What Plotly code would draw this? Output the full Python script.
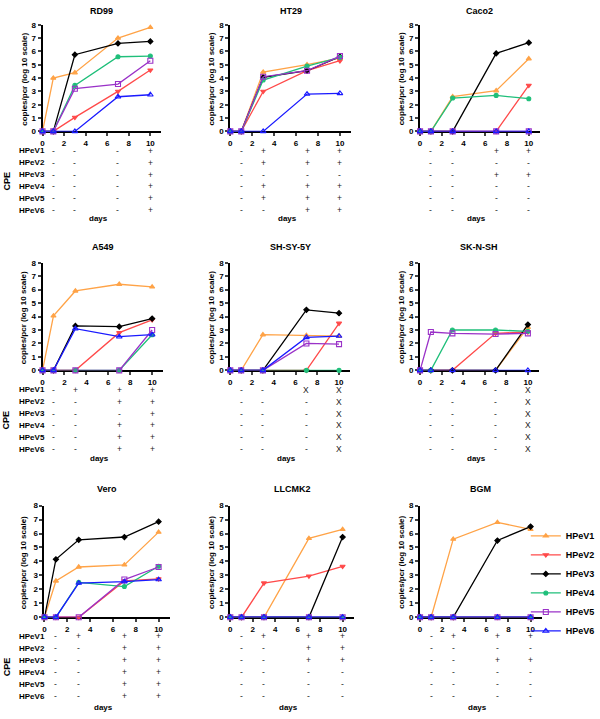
import plotly.graph_objects as go

W, H = 600, 719

DAYS = [0, 1, 3, 7, 10]
CPE_DAYS = [1, 3, 7, 10]
SERIES = ["HPeV1", "HPeV2", "HPeV3", "HPeV4", "HPeV5", "HPeV6"]
COLORS = ["#FFA347", "#FF4A4A", "#000000", "#1FBF7A", "#9A32C8", "#1A1AFF"]
SYMBOLS = ["triangle-up", "triangle-down", "diamond", "circle", "square-open", "triangle-up-open"]
SIZES = [4.5, 4.5, 4, 4, 5, 5]

PANELS = ["RD99", "HT29", "Caco2", "A549", "SH-SY-5Y", "SK-N-SH", "Vero", "LLCMK2", "BGM"]

# copies/pcr (log10) per series HPeV1..HPeV6 at DAYS
RD99 = [[0, 4.0, 4.4, 7.0, 7.8], [0, 0, 1.05, 3.0, 4.6], [0, 0, 5.75, 6.6, 6.75],
        [0, 0, 3.45, 5.6, 5.65], [0, 0, 3.2, 3.55, 5.3], [0, 0, 0, 2.6, 2.75]]
HT29 = [[0, 0, 4.45, 5.0, 5.5], [0, 0, 3.0, 4.55, 5.3], [0, 0, 4.05, 4.55, 5.6],
        [0, 0, 3.85, 4.9, 5.55], [0, 0, 4.1, 4.55, 5.65], [0, 0, 0, 2.8, 2.85]]
CACO2 = [[0, 0, 2.6, 3.05, 5.45], [0, 0, 0, 0, 3.45], [0, 0, 0, 5.85, 6.65],
         [0, 0, 2.5, 2.7, 2.45], [0, 0, 0, 0, 0], [0, 0, 0, 0, 0]]
A549 = [[0, 4.05, 5.9, 6.4, 6.2], [0, 0, 0, 2.8, 3.75], [0, 0, 3.3, 3.25, 3.85],
        [0, 0, 0, 0, 2.65], [0, 0, 0, 0, 3.0], [0, 0, 3.1, 2.5, 2.65]]
SHSY5Y = [[0, 0, 2.65, 2.6, 2.55], [0, 0, 0, 0, 3.5], [0, 0, 0, 4.5, 4.25],
          [0, 0, 0, 0, 0], [0, 0, 0, 2.0, 1.95], [0, 0, 0, 2.45, 2.55]]
SKNSH = [[0, 0, 0, 0, 3.2], [0, 0, 0, 2.75, 2.85], [0, 0, 0, 0, 3.4],
         [0, 0, 3.0, 3.0, 2.9], [0, 2.85, 2.75, 2.7, 2.75], [0, 0, 0, 0, 0]]
VERO = [[0, 2.6, 3.6, 3.75, 6.1], [0, 0, 0, 2.6, 2.75], [0, 4.15, 5.55, 5.75, 6.85],
        [0, 0, 2.5, 2.2, 3.65], [0, 0, 0, 2.7, 3.6], [0, 0, 2.45, 2.55, 2.7]]
LLCMK2 = [[0, 0, 0, 5.65, 6.3], [0, 0, 2.45, 2.95, 3.65], [0, 0, 0, 0, 5.75],
          [0, 0, 0, 0, 0], [0, 0, 0, 0, 0], [0, 0, 0, 0, 0]]
BGM = [[0, 0, 5.6, 6.8, 6.3], [0, 0, 0, 0, 0], [0, 0, 0, 5.5, 6.5],
       [0, 0, 0, 0, 0], [0, 0, 0, 0, 0], [0, 0, 0, 0, 0]]

# CPE table: one string per CPE day (1,3,7,10), characters for HPeV1..HPeV6
RD99_CPE = ["------", "------", "------", "++++++"]
HT29_CPE = ["------", "++-++-", "++-+++", "++-+++"]
CACO2_CPE = ["------", "------", "+-+---", "+-+---"]
A549_CPE = ["------", "+-----", "++-+++", "++++++"]
SHSY5Y_CPE = ["------", "------", "X-----", "XXXXXX"]
SKNSH_CPE = ["------", "------", "------", "XXXXXX"]
VERO_CPE = ["------", "+-----", "++++++", "++++++"]
LLCMK2_CPE = ["------", "+-----", "+++---", "+++---"]
BGM_CPE = ["------", "+-----", "+-+---", "+-+---"]

DATA = [RD99, HT29, CACO2, A549, SHSY5Y, SKNSH, VERO, LLCMK2, BGM]
CPES = [RD99_CPE, HT29_CPE, CACO2_CPE, A549_CPE, SHSY5Y_CPE, SKNSH_CPE, VERO_CPE, LLCMK2_CPE, BGM_CPE]

# layout geometry (pixels)
X_EXT = [(41, 161), (231, 353), (423, 544),
         (41, 163), (231, 352), (423, 543),
         (43, 170), (231, 356), (423, 546)]
ROW_Y = [(21, 129), (262, 371), (508, 621)]
TITLE_Y = [7, 246, 491]
YTITLE_X = [22, 212, 404]
DAYS_Y = [217, 460, 712]

FONT = "Liberation Sans, Arial, sans-serif"

def px(x):
    return x / W

def py(y):
    return 1 - y / H

fig = go.Figure()
layout = {}
annotations = []

for i, name in enumerate(PANELS):
    row, col = divmod(i, 3)
    n = "" if i == 0 else str(i + 1)
    xa, ya = "x" + n, "y" + n
    x0, x1 = X_EXT[i]
    top, bot = ROW_Y[row]
    layout["xaxis" + n] = dict(
        domain=[px(x0), px(x1)], range=[0, 11], anchor=ya,
        tickvals=[0, 2, 4, 6, 8, 10], ticks="outside", ticklen=3, tickwidth=1.5,
        showline=True, linewidth=2, linecolor="black", showgrid=False, zeroline=False,
        tickfont=dict(family=FONT, size=8, color="black", weight="bold"),
        layer="below traces", fixedrange=True)
    layout["yaxis" + n] = dict(
        domain=[py(bot), py(top)], range=[0, 8], anchor=xa,
        tickvals=list(range(9)), ticks="outside", ticklen=3, tickwidth=1.5,
        showline=True, linewidth=2, linecolor="black", showgrid=False, zeroline=False,
        tickfont=dict(family=FONT, size=8, color="black", weight="bold"),
        layer="below traces", fixedrange=True)

    for j, s in enumerate(SERIES):
        fig.add_trace(go.Scatter(
            x=DAYS, y=DATA[i][j], xaxis=xa, yaxis=ya, name=s,
            mode="lines+markers", legendgroup=s, showlegend=(i == 0),
            line=dict(color=COLORS[j], width=1.3),
            marker=dict(symbol=SYMBOLS[j], size=SIZES[j], color=COLORS[j],
                        line=dict(color=COLORS[j], width=1.1)),
            cliponaxis=False))

    # panel title
    annotations.append(dict(text=name, xref="paper", yref="paper",
                            x=px((x0 + x1) / 2), y=py(TITLE_Y[row]),
                            xanchor="center", yanchor="middle", showarrow=False,
                            font=dict(family=FONT, size=9, color="black", weight="bold")))
    # y-axis title
    annotations.append(dict(text="copies/pcr (log 10 scale)", xref="paper", yref="paper",
                            x=px(YTITLE_X[col]), y=py((top + bot) / 2 + 1), textangle=-90,
                            xanchor="center", yanchor="middle", showarrow=False,
                            font=dict(family=FONT, size=8, color="black", weight="bold")))
    # days label
    annotations.append(dict(text="days", xref=xa, yref="paper", x=5.2, y=py(DAYS_Y[row]),
                            xanchor="center", yanchor="middle", showarrow=False,
                            font=dict(family=FONT, size=8, color="black", weight="bold")))
    # CPE table
    for k, d in enumerate(CPE_DAYS):
        for r, ch in enumerate(CPES[i][k]):
            annotations.append(dict(text=ch, xref=xa, yref="paper", x=d,
                                    y=py(bot + 19.5 + 12.1 * r),
                                    xanchor="center", yanchor="middle", showarrow=False,
                                    font=dict(family=FONT, size=8.5, color="#222222")))
    if col == 0:
        for r, s in enumerate(SERIES):
            annotations.append(dict(text=s, xref="paper", yref="paper", x=px(15),
                                    y=py(bot + 19.5 + 12.1 * r),
                                    xanchor="left", yanchor="middle", showarrow=False,
                                    font=dict(family=FONT, size=8, color="black", weight="bold")))
        annotations.append(dict(text="CPE", xref="paper", yref="paper", x=px(5),
                                y=py(bot + 19.5 + 12.1 * 2.5), textangle=-90,
                                xanchor="center", yanchor="middle", showarrow=False,
                                font=dict(family=FONT, size=9, color="black", weight="bold")))

fig.update_layout(
    width=W, height=H, margin=dict(l=0, r=0, t=0, b=0),
    paper_bgcolor="white", plot_bgcolor="white",
    annotations=annotations,
    legend=dict(x=px(530), y=py(524), xanchor="left", yanchor="top",
                bgcolor="rgba(0,0,0,0)", itemwidth=30, tracegroupgap=0,
                font=dict(family=FONT, size=9, color="black", weight="bold")),
    **layout)

fig.write_html("out.html", config={"displayModeBar": False},
               post_script="document.body.style.margin='0';document.body.style.overflow='hidden';")
